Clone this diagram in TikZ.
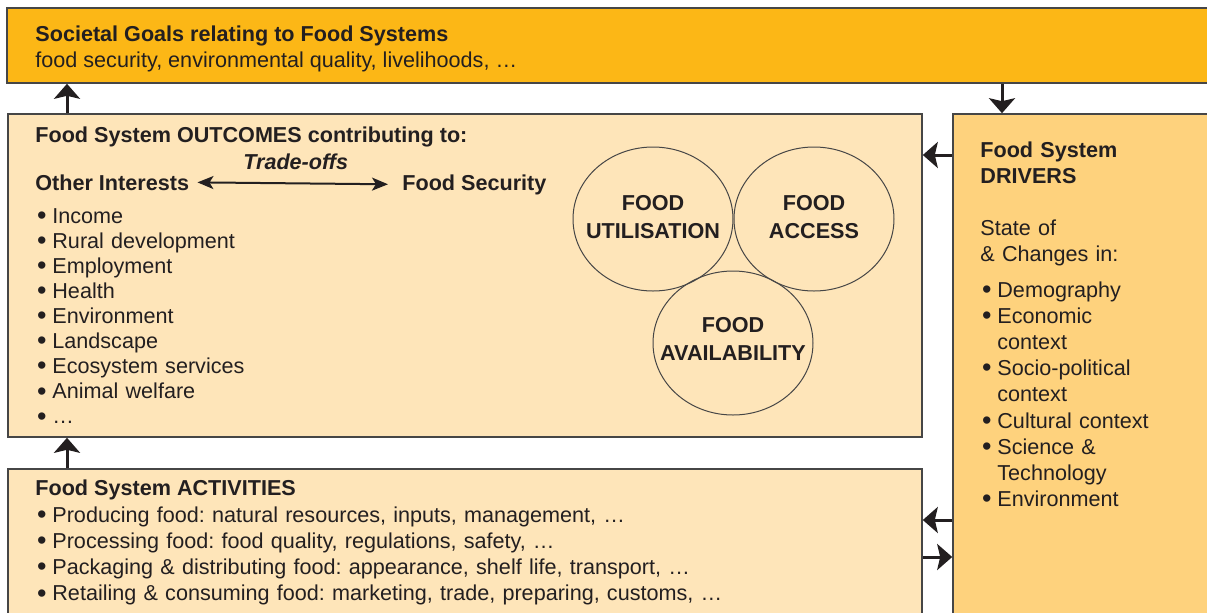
\documentclass[tikz,border=0pt]{standalone}
\usepackage{fontspec}
\setmainfont{Liberation Sans}
\usetikzlibrary{arrows.meta,positioning,fit,shapes.geometric}
\newcommand{\bu}{\makebox[8.5pt][l]{\hspace{0.8pt}\raisebox{-0.6pt}{\scalebox{1.25}{\textbullet}}}}   %bullet with hanging gap
\newcommand{\hang}{\hspace*{8.5pt}}                   %continuation line
\frenchspacing

\begin{document}
\begin{tikzpicture}[x=0.5pt,y=-0.5pt]  %1 unit = 1 px of the sketch, y runs downwards
    \definecolor{goal-or}{RGB}{252,183,22};   %dark orange
    \definecolor{box-lt}{RGB}{254,229,185};   %light orange
    \definecolor{drv-md}{RGB}{254,210,125};   %middle orange
    \definecolor{edge-gr}{RGB}{70,70,70};     %box edges
    \definecolor{ink}{RGB}{35,31,32};         %text and arrows
    \tikzstyle{box} = [draw=edge-gr,line width=0.8pt,inner sep=0pt]
    \tikzstyle{txt} = [anchor=base west,inner sep=0pt,text=ink,font=\fontsize{10.8}{12.6}\selectfont]
    \tikzstyle{hd}  = [anchor=base west,inner sep=0pt,text=ink,font=\bfseries\fontsize{10.8}{13.1}\selectfont]
    \tikzstyle{ring} = [draw=edge-gr,line width=0.5pt,ellipse,minimum width=80pt,minimum height=72pt,inner sep=0pt]
    \tikzstyle{ringtxt} = [inner sep=0pt,align=center,text=ink,font=\bfseries\fontsize{10.8}{14}\selectfont]
    \tikzstyle{fat} = [ink,line width=1.5pt,-{Stealth[length=7.5pt,width=13pt,inset=1.5pt]}]
    \tikzstyle{thin} = [ink,line width=1pt,{Stealth[length=8pt,width=6.5pt,inset=2pt]}-{Stealth[length=8pt,width=6.5pt,inset=2pt]}]

    \useasboundingbox (0,0) rectangle (1207,612);
    \clip (0,0) rectangle (1207,612);

    %boxes, lower left / upper right corners
    \coordinate(GLL) at (7,83);     \coordinate(GUR) at (1230,8);
    \coordinate(OLL) at (8,437);    \coordinate(OUR) at (922,114);
    \coordinate(ALL) at (8,640);    \coordinate(AUR) at (922,469);
    \coordinate(DLL) at (953,640);  \coordinate(DUR) at (1230,114);
    \node[box,fill=goal-or,fit=(GLL)(GUR)] (goals) {};
    \node[box,fill=box-lt,fit=(OLL)(OUR)] (outcomes) {};
    \node[box,fill=box-lt,fit=(ALL)(AUR)] (activities) {};
    \node[box,fill=drv-md,fit=(DLL)(DUR)] (drivers) {};

    %societal goals
    \node[hd] (gtitle) at (35,41) {Societal Goals relating to Food Systems};
    \node[txt] (gtext) at (35,67) {food security, environmental quality, livelihoods, …};

    %outcomes
    \node[hd] (otitle) at (35,142) {Food System OUTCOMES contributing to:};
    \node[hd] (oi) at (35,190) {Other Interests};
    \node[hd] (fs) at (402,190) {Food Security};
    \draw[thin,shorten <=4pt,shorten >=7pt] (oi.east) -- (fs.west)
          node[midway,above=3pt,text=ink,font=\bfseries\itshape\fontsize{10.8}{12.6}\selectfont] (trade) {Trade-offs};
    \node[txt,text width=250pt,font=\fontsize{10.8}{12.56}\selectfont] (olist) at (35,223)
          {\bu Income\\ \bu Rural development\\ \bu Employment\\ \bu Health\\ \bu Environment\\
           \bu Landscape\\ \bu Ecosystem services\\ \bu Animal welfare\\ \bu …};

    %food security pillars
    \node[ring] (util) at (653,219) {};
    \node[ring] (acc) at (814,219) {};
    \node[ring] (avail) at (733,343) {};
    \node[ringtxt] (utilt) at ([yshift=1pt]util) {FOOD\\UTILISATION};
    \node[ringtxt] (acct) at ([yshift=1pt]acc) {FOOD\\ACCESS};
    \node[ringtxt] (availt) at ([yshift=2pt]avail) {FOOD\\AVAILABILITY};

    %activities
    \node[hd] (atitle) at (35,495) {Food System ACTIVITIES};
    \node[txt,text width=450pt,font=\fontsize{10.8}{13.15}\selectfont] (alist) at (35,522)
          {\bu Producing food: natural resources, inputs, management, …\\
           \bu Processing food: food quality, regulations, safety, …\\
           \bu Packaging \& distributing food: appearance, shelf life, transport, …\\
           \bu Retailing \& consuming food: marketing, trade, preparing, customs, …};

    %drivers
    \node[hd,text width=110pt] (dtitle) at (980,157) {Food System\\DRIVERS};
    \node[txt,text width=110pt,font=\fontsize{10.8}{13.1}\selectfont] (dstate) at (980,235)
          {State of\\\& Changes in:};
    \node[txt,text width=110pt,font=\fontsize{10.8}{13.1}\selectfont] (dlist) at (980,297)
          {\bu Demography\\ \bu Economic\\ \hang context\\ \bu Socio-political\\ \hang context\\
           \bu Cultural context\\ \bu Science \&\\ \hang Technology\\ \bu Environment};

    %arrows between the boxes
    \coordinate(ua) at (67,0);   \coordinate(da) at (1002,0);
    \coordinate(la) at (0,155);  \coordinate(lb) at (0,520);  \coordinate(rb) at (0,557);
    \draw[fat] (outcomes.north -| ua) -- (goals.south -| ua);
    \draw[fat] (activities.north -| ua) -- (outcomes.south -| ua);
    \draw[fat] (goals.south -| da) -- (drivers.north -| da);
    \draw[fat] (drivers.west |- la) -- (outcomes.east |- la);
    \draw[fat] (drivers.west |- lb) -- (activities.east |- lb);
    \draw[fat] (activities.east |- rb) -- (drivers.west |- rb);
\end{tikzpicture}
\end{document}
